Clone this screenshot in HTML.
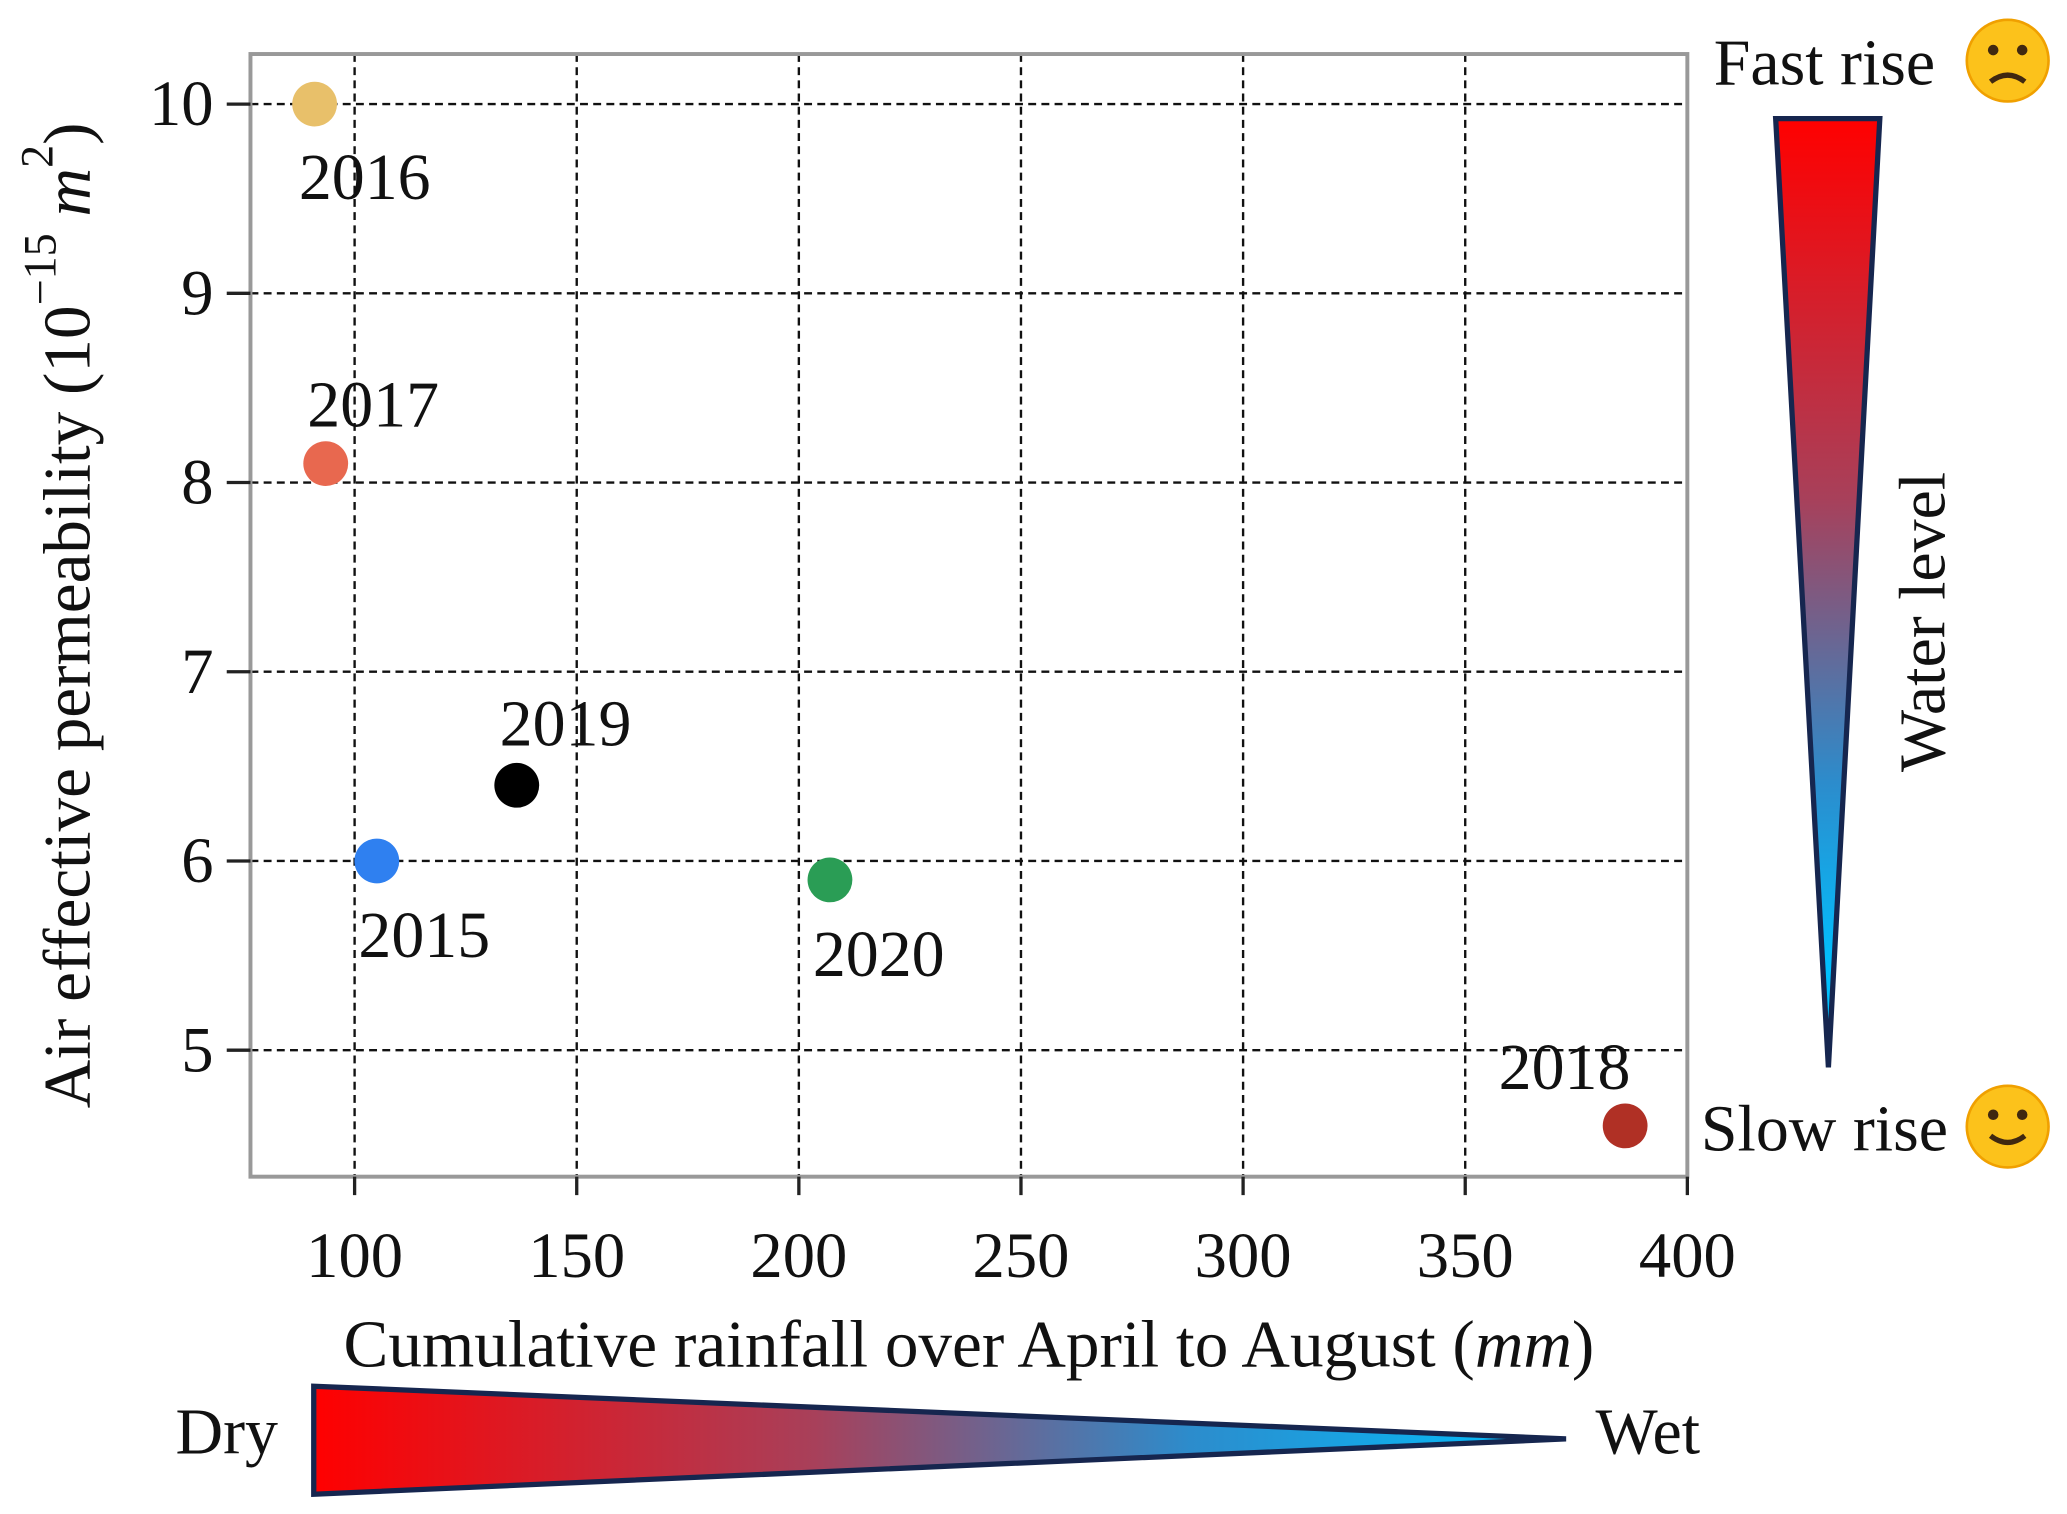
<!DOCTYPE html>
<html><head><meta charset="utf-8"><style>
html,body{margin:0;padding:0;background:#fff;}
svg{display:block;}
text{font-family:"Liberation Serif",serif;fill:#111;}
</style></head><body>
<svg id="chart" width="2067" height="1514" viewBox="0 0 1568 1149" preserveAspectRatio="none">
<defs>
<linearGradient id="gh" x1="0" x2="1" y1="0" y2="0"><stop offset="0" stop-color="#ff0000"/><stop offset="0.4" stop-color="#a8405a"/><stop offset="0.7" stop-color="#2c8ccc"/><stop offset="1" stop-color="#00c0ff"/></linearGradient>
<linearGradient id="gv" x1="0" x2="0" y1="0" y2="1"><stop offset="0" stop-color="#ff0000"/><stop offset="0.4" stop-color="#a8405a"/><stop offset="0.7" stop-color="#2c8ccc"/><stop offset="0.9" stop-color="#00c0ff"/></linearGradient>
</defs>
<g id="grid"></g>
<rect x="190" y="41" width="1090" height="852" fill="none" stroke="#999" stroke-width="3"/>
<g id="ticks"></g>
<g id="points"></g>
<text x="735" y="1037" font-size="51" text-anchor="middle">Cumulative rainfall over April to August (<tspan font-style="italic">mm</tspan>)</text>
<text transform="translate(68,467) rotate(-90)" font-size="51" text-anchor="middle">Air effective permeability (10<tspan dy="-26" font-size="35">−15</tspan><tspan dy="26"> </tspan><tspan font-style="italic">m</tspan><tspan dy="-28" font-size="35">2</tspan><tspan dy="28">)</tspan></text>
<polygon points="238,1052 238,1134 1188,1092" fill="url(#gh)" stroke="#16264f" stroke-width="4"/>
<text x="172" y="1103" font-size="50" text-anchor="middle">Dry</text>
<text x="1250" y="1103" font-size="50" text-anchor="middle">Wet</text>
<polygon points="1347,90 1426,90 1387,810" fill="url(#gv)" stroke="#16264f" stroke-width="4"/>
<text x="1384" y="64" font-size="50" text-anchor="middle">Fast rise</text>
<text x="1384" y="873" font-size="50" text-anchor="middle">Slow rise</text>
<text transform="translate(1475,472) rotate(-90)" font-size="50" text-anchor="middle">Water level</text>
<g>
<circle cx="1523" cy="46" r="31" fill="#fcc21b" stroke="#f0a000" stroke-width="2"/>
<circle cx="1512" cy="38" r="4" fill="#402810"/><circle cx="1534" cy="38" r="4" fill="#402810"/>
<path d="M1510,62 Q1523,52 1536,62" stroke="#402810" stroke-width="4" fill="none"/>
</g>
<g>
<circle cx="1523" cy="855" r="31" fill="#fcc21b" stroke="#f0a000" stroke-width="2"/>
<circle cx="1512" cy="846" r="4" fill="#402810"/><circle cx="1534" cy="846" r="4" fill="#402810"/>
<path d="M1510,862 Q1523,872 1536,862" stroke="#402810" stroke-width="4" fill="none"/>
</g>
</svg>
<script>
const years=["2016","2017","2015","2019","2020","2018"];
const rainfall=[91,93.5,105,136.5,207,386];
const permeability=[10,8.1,6.0,6.4,5.9,4.6];
const colors=["#e8c06a","#e8684f","#2f80f0","#000000","#2a9d55","#b03025"];
const xTicks=[100,150,200,250,300,350,400];
const yTicks=[5,6,7,8,9,10];
const NS="http://www.w3.org/2000/svg";
const X=v=>269+(v-100)*(1011/300);
const Y=v=>797-(v-5)*(718/5);
const labelOff=[[38,56],[36,-44],[36,57],[37,-46],[37,57],[-46,-44]];
function mk(tag,a,parent){const e=document.createElementNS(NS,tag);for(const k in a)e.setAttribute(k,a[k]);document.getElementById(parent).appendChild(e);return e;}
xTicks.forEach(t=>{
 const g=mk('line',{x1:X(t),x2:X(t),y1:41,y2:893,stroke:'#111','stroke-width':1.8,'stroke-dasharray':'6,4'},'grid');
 
 
 const tk=mk('line',{x1:X(t),x2:X(t),y1:893,y2:907,stroke:'#222','stroke-width':2.5},'ticks');
 
 
 const l=mk('text',{x:X(t),y:969,'font-size':49,'text-anchor':'middle'},'ticks');l.textContent=t;
 
 
});
yTicks.forEach(t=>{
 const g=mk('line',{x1:190,x2:1280,y1:Y(t),y2:Y(t),stroke:'#111','stroke-width':1.8,'stroke-dasharray':'6,4'},'grid');
 
 
 const tk=mk('line',{x1:172,x2:190,y1:Y(t),y2:Y(t),stroke:'#222','stroke-width':2.5},'ticks');
 
 
 const l=mk('text',{x:162,y:Y(t)+16,'font-size':49,'text-anchor':'end'},'ticks');l.textContent=t;
 
 
});
years.forEach((yr,i)=>{
 const cx=X(rainfall[i]),cy=Y(permeability[i]);
 const c=mk('circle',{cx:cx,cy:cy,r:17,fill:colors[i]},'points');
 
 
 const t=mk('text',{x:cx+labelOff[i][0],y:cy+labelOff[i][1]+16,'font-size':50,'text-anchor':'middle'},'points');t.textContent=yr;
 
 
});
</script>
</body></html>
